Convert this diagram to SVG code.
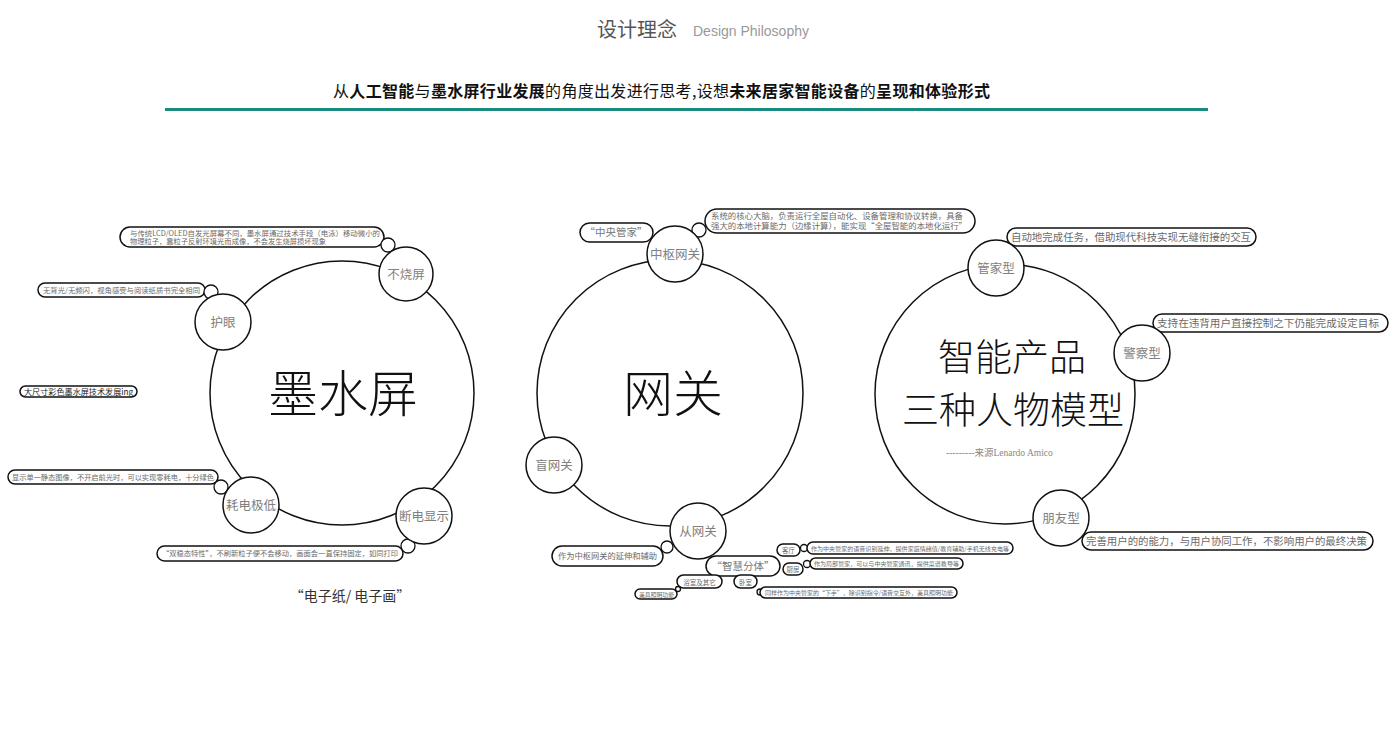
<svg xmlns="http://www.w3.org/2000/svg" width="1400" height="740" viewBox="0 0 1400 740">
<style>
text{font-family:"Noto Sans CJK SC","Liberation Sans",sans-serif}
.main{fill:#fff;stroke:#111;stroke-width:1.5}
.sub{fill:#fff;stroke:#111;stroke-width:1.5}
.dot{fill:#fff;stroke:#111;stroke-width:1.3}
.pill{fill:#fff;stroke:#111;stroke-width:1.5}
.lbl{fill:#808080;font-size:12.5px;text-anchor:middle}
.big{fill:#111;text-anchor:middle;font-weight:300}
.pt{fill:#6a6a6a}
</style>
<rect width="1400" height="740" fill="#fff"/>
<g id="title">
<text x="597" y="37" font-size="20" fill="#555">设计理念</text>
<text x="693" y="36" font-size="14" fill="#999" style="font-family:'Liberation Sans',sans-serif">Design Philosophy</text>
</g>
<g id="subtitle">
<text x="333" y="97" font-size="16" fill="#111" textLength="657">从<tspan font-weight="bold">人工智能</tspan>与<tspan font-weight="bold">墨水屏行业发展</tspan>的角度出发进行思考,设想<tspan font-weight="bold">未来居家智能设备</tspan>的<tspan font-weight="bold">呈现和体验形式</tspan></text>
<rect x="165" y="108" width="1043" height="3" fill="#1b8a80"/>
</g>

<g id="connectors"></g>

<g id="eink">
<circle class="main" cx="342" cy="393" r="132"/>
<text class="big" x="343" y="412" font-size="50">墨水屏</text>
</g>
<g id="n-buchaoping">
<rect class="pill" x="120" y="227" width="264" height="20" rx="10"/>
<text class="pt" x="130" y="236" font-size="7.3" textLength="250" lengthAdjust="spacingAndGlyphs">与传统LCD/OLED自发光屏幕不同，墨水屏通过技术手段（电泳）移动微小的</text>
<text class="pt" x="130" y="244" font-size="7.3" textLength="196" lengthAdjust="spacingAndGlyphs">物理粒子，靠粒子反射环境光而成像，不会发生烧屏损坏现象</text>
<circle class="dot" cx="388" cy="245" r="7"/>
<circle class="sub" cx="406" cy="274" r="27"/>
<text class="lbl" x="406" y="279">不烧屏</text>
</g>
<g id="n-huyan">
<rect class="pill" x="38" y="283" width="167" height="14" rx="7"/>
<text class="pt" x="43" y="293" font-size="7" textLength="157" lengthAdjust="spacingAndGlyphs">无背光/无频闪，视角感受与阅读纸质书完全相同</text>
<circle class="dot" cx="211" cy="292" r="7"/>
<circle class="sub" cx="223" cy="322" r="28"/>
<text class="lbl" x="223" y="327">护眼</text>
</g>
<g id="n-daichicun">
<rect class="pill" x="20" y="386" width="117" height="11" rx="5.5" stroke-width="1.8"/>
<text x="24" y="395" font-size="8" fill="#222" textLength="109" lengthAdjust="spacingAndGlyphs">大尺寸彩色墨水屏技术发展ing</text>
</g>
<g id="n-haodian">
<rect class="pill" x="8" y="470" width="210" height="14" rx="7"/>
<text class="pt" x="12" y="480" font-size="7" textLength="202" lengthAdjust="spacingAndGlyphs">显示单一静态图像，不开启前光时，可以实现零耗电，十分绿色</text>
<circle class="dot" cx="221" cy="487" r="7"/>
<circle class="sub" cx="251" cy="505" r="28"/>
<text class="lbl" x="251" y="510">耗电极低</text>
</g>
<g id="n-duandian">
<rect class="pill" x="157" y="546" width="246" height="15" rx="7.5"/>
<text class="pt" x="162" y="556" font-size="7" textLength="236" lengthAdjust="spacingAndGlyphs">“双稳态特性”，不刷新粒子便不会移动，画面会一直保持固定，如同打印</text>
<circle class="dot" cx="408" cy="546" r="7"/>
<circle class="sub" cx="424" cy="516" r="28"/>
<text class="lbl" x="424" y="521">断电显示</text>
</g>
<g id="epaper">
<text x="350" y="601" font-size="14" fill="#333" text-anchor="middle">“电子纸/ 电子画”</text>
</g>

<g id="gateway">
<circle class="main" cx="670" cy="393" r="133"/>
<text class="big" x="673" y="412" font-size="50">网关</text>
</g>
<g id="n-zhongshu">
<rect class="pill" x="580" y="223" width="73" height="19" rx="9.5"/>
<text x="616" y="236" font-size="10.5" fill="#777" text-anchor="middle">“中央管家”</text>
<rect class="pill" x="705" y="209" width="270" height="24" rx="12"/>
<text class="pt" x="711" y="219" font-size="8" textLength="252" lengthAdjust="spacingAndGlyphs">系统的核心大脑，负责运行全屋自动化、设备管理和协议转换，具备</text>
<text class="pt" x="711" y="229" font-size="8" textLength="256" lengthAdjust="spacingAndGlyphs">强大的本地计算能力（边缘计算），能实现“全屋智能的本地化运行”</text>
<circle class="dot" cx="699" cy="230" r="7"/>
<circle class="sub" cx="675" cy="254" r="28"/>
<text class="lbl" x="675" y="259">中枢网关</text>
</g>
<g id="n-mang">
<circle class="sub" cx="554" cy="465" r="28"/>
<text class="lbl" x="554" y="470">盲网关</text>
</g>
<g id="n-cong">
<rect class="pill" x="552" y="546" width="111" height="20" rx="10"/>
<text class="pt" x="558" y="559" font-size="8.5" textLength="99" lengthAdjust="spacingAndGlyphs">作为中枢网关的延伸和辅助</text>
<circle class="dot" cx="667" cy="547" r="6"/>
<circle class="sub" cx="698" cy="531" r="28"/>
<text class="lbl" x="698" y="536">从网关</text>
</g>
<g id="n-zhihui">
<rect class="pill" x="706" y="556" width="74" height="20" rx="10"/>
<text x="743" y="570" font-size="10.5" fill="#777" text-anchor="middle">“智慧分体”</text>
</g>
<g id="n-keting">
<rect class="pill" x="777" y="544" width="23" height="12" rx="6" stroke-width="1.2"/>
<text class="pt" x="788.5" y="553" font-size="6.5" text-anchor="middle">客厅</text>
<circle class="dot" cx="804" cy="548" r="3.5" stroke-width="1"/>
<rect class="pill" x="807" y="542" width="206" height="12" rx="6" stroke-width="1.2"/>
<text class="pt" x="811" y="550.5" font-size="5.8" textLength="198" lengthAdjust="spacingAndGlyphs">作为中央管家的语音识别延伸，提供家庭情绪值/教育辅助/手机无线充电等</text>
</g>
<g id="n-chufang">
<rect class="pill" x="783" y="563" width="20" height="12" rx="6" stroke-width="1.2"/>
<text class="pt" x="793" y="572" font-size="6.5" text-anchor="middle">厨房</text>
<circle class="dot" cx="807" cy="564" r="3.5" stroke-width="1"/>
<rect class="pill" x="810" y="558" width="153" height="11" rx="5.5" stroke-width="1.2"/>
<text class="pt" x="814" y="566" font-size="5.8" textLength="145" lengthAdjust="spacingAndGlyphs">作为局部管家，可以与中央管家通讯，提供菜谱教导等</text>
</g>
<g id="n-woshi">
<rect class="pill" x="734" y="575" width="23" height="13" rx="6.5" stroke-width="1.2"/>
<text class="pt" x="745.5" y="584.5" font-size="6.5" text-anchor="middle">卧室</text>
<circle class="dot" cx="760" cy="592" r="3" stroke-width="1"/>
<rect class="pill" x="760" y="587" width="197" height="11" rx="5.5" stroke-width="1.2"/>
<text class="pt" x="765" y="595" font-size="5.8" textLength="188" lengthAdjust="spacingAndGlyphs">同样作为中央管家的“下手”，除识别指令/语音交互外，兼具照明功能</text>
</g>
<g id="n-yushi">
<rect class="pill" x="677" y="575" width="45" height="13" rx="6.5" stroke-width="1.2"/>
<text class="pt" x="699.5" y="584.5" font-size="6.5" text-anchor="middle">浴室及其它</text>
<circle class="dot" cx="678" cy="589" r="2.5" stroke-width="1"/>
<rect class="pill" x="635" y="589" width="42" height="10" rx="5" stroke-width="1.2"/>
<text class="pt" x="639" y="596.5" font-size="5.8" textLength="35" lengthAdjust="spacingAndGlyphs">兼具照明功能</text>
</g>

<g id="product">
<circle class="main" cx="1005" cy="394" r="130"/>
<text class="big" x="1012" y="371" font-size="37">智能产品</text>
<text class="big" x="1013" y="424" font-size="37">三种人物模型</text>
<text x="946" y="456" font-size="9.5" fill="#888" style="font-family:'Liberation Serif','Noto Sans CJK SC',serif">---------来源Lenardo Amico</text>
</g>
<g id="n-guanjia">
<rect class="pill" x="1007" y="228" width="249" height="18" rx="9"/>
<text class="pt" x="1011" y="241" font-size="10" textLength="240" lengthAdjust="spacingAndGlyphs">自动地完成任务，借助现代科技实现无缝衔接的交互</text>
<circle class="sub" cx="996" cy="268" r="28"/>
<text class="lbl" x="996" y="273">管家型</text>
</g>
<g id="n-jingcha">
<rect class="pill" x="1153" y="314" width="235" height="18" rx="9"/>
<text class="pt" x="1157" y="327" font-size="10" textLength="222" lengthAdjust="spacingAndGlyphs">支持在违背用户直接控制之下仍能完成设定目标</text>
<circle class="sub" cx="1142" cy="353" r="28"/>
<text class="lbl" x="1142" y="358">警察型</text>
</g>
<g id="n-pengyou">
<rect class="pill" x="1082" y="532" width="291" height="18" rx="9"/>
<text class="pt" x="1086" y="545" font-size="10" textLength="281" lengthAdjust="spacingAndGlyphs">完善用户的的能力，与用户协同工作，不影响用户的最终决策</text>
<circle class="sub" cx="1061" cy="518" r="28"/>
<text class="lbl" x="1061" y="523">朋友型</text>
</g>
</svg>
